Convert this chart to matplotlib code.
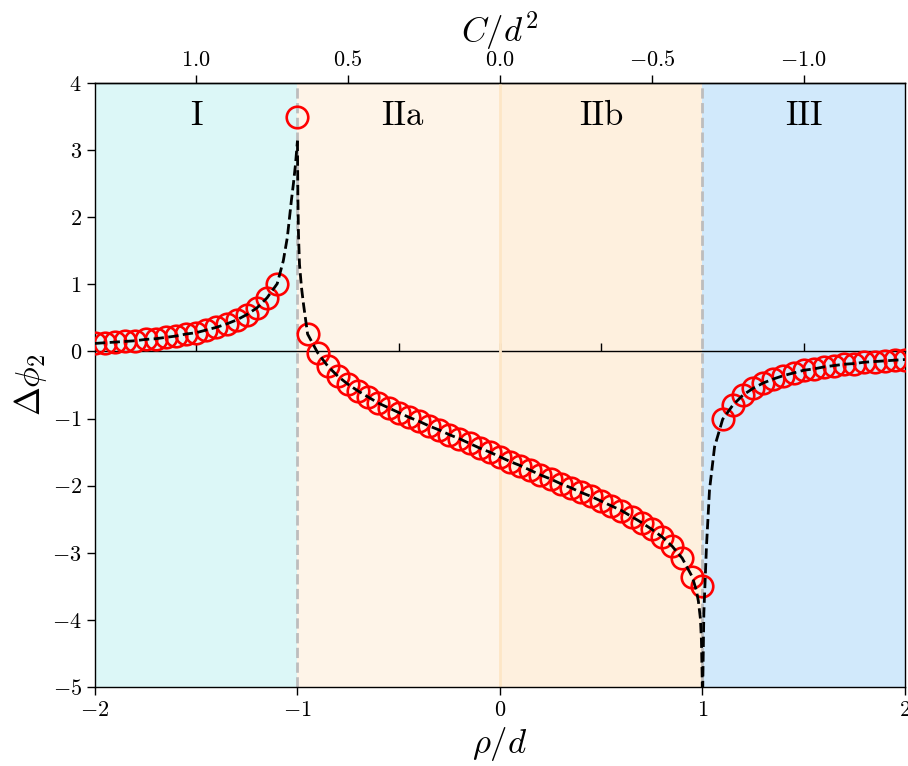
import matplotlib
matplotlib.use('Agg')
from matplotlib import pyplot as plt

plt.rcParams['font.family'] = 'serif'
plt.rcParams['font.serif'] = ['cmr10']
plt.rcParams['mathtext.fontset'] = 'cm'
plt.rcParams['axes.formatter.use_mathtext'] = True
plt.rcParams['axes.linewidth'] = 1.0

# circles, region I (rho/d < -1)
rho_I = [-2.00, -1.95, -1.90, -1.85, -1.80, -1.75, -1.70, -1.65, -1.60, -1.55,
         -1.50, -1.45, -1.40, -1.35, -1.30, -1.25, -1.20, -1.15, -1.10]
dphi_I = [0.12, 0.13, 0.14, 0.15, 0.16, 0.18, 0.19, 0.21, 0.23, 0.26,
          0.28, 0.32, 0.36, 0.41, 0.47, 0.55, 0.65, 0.80, 1.01]

# circles, region II (-1 <= rho/d <= 1)
rho_II = [-1.00, -0.95, -0.90, -0.85, -0.80, -0.75, -0.70, -0.65, -0.60, -0.55,
          -0.50, -0.45, -0.40, -0.35, -0.30, -0.25, -0.20, -0.15, -0.10, -0.05,
          0.00, 0.05, 0.10, 0.15, 0.20, 0.25, 0.30, 0.35, 0.40, 0.45,
          0.50, 0.55, 0.60, 0.65, 0.70, 0.75, 0.80, 0.85, 0.90, 0.95, 1.00]
dphi_II = [3.50, 0.26, -0.02, -0.22, -0.37, -0.49, -0.59, -0.68, -0.77, -0.84,
           -0.91, -0.98, -1.04, -1.11, -1.17, -1.24, -1.30, -1.37, -1.44, -1.50,
           -1.57, -1.64, -1.70, -1.77, -1.84, -1.90, -1.97, -2.03, -2.10, -2.16,
           -2.23, -2.30, -2.37, -2.46, -2.55, -2.65, -2.76, -2.90, -3.08, -3.36, -3.50]

# circles, region III (rho/d > 1)
rho_III = [1.10, 1.15, 1.20, 1.25, 1.30, 1.35, 1.40, 1.45, 1.50, 1.55,
           1.60, 1.65, 1.70, 1.75, 1.80, 1.85, 1.90, 1.95, 2.00]
dphi_III = [-1.01, -0.80, -0.65, -0.55, -0.47, -0.41, -0.36, -0.32, -0.28, -0.26,
            -0.23, -0.21, -0.19, -0.18, -0.16, -0.15, -0.14, -0.13, -0.12]

# extra points of the dashed curve close to the asymptotes
near_I_x = [-1.07, -1.05, -1.03, -1.02, -1.01, -1.00]
near_I_y = [1.35, 1.70, 2.25, 2.50, 2.78, 3.14]
near_IIl_x = [-1.00, -0.998, -0.995, -0.99, -0.98, -0.97]
near_IIl_y = [3.14, 2.30, 1.75, 1.30, 0.95, 0.70]
near_IIr_x = [0.97, 0.98, 0.99, 0.995, 0.999, 1.00]
near_IIr_y = [-3.56, -3.72, -3.98, -4.30, -4.90, -5.50]
near_III_x = [1.0005, 1.002, 1.007, 1.02, 1.035, 1.06]
near_III_y = [-5.50, -4.90, -3.90, -2.90, -2.06, -1.42]

regions = ['I', 'IIa', 'IIb', 'III']
region_edges = [-2, -1, 0, 1, 2]
region_colors = ['#dcf7f7', '#fef4e8', '#fef0de', '#d1e9fb']
region_label_x = [-1.5, -0.48, 0.5, 1.5]
c_ticks = [1.0, 0.5, 0.0, -0.5, -1.0]
zero_ticks = [-1.5, -0.5, 0.0, 0.5, 1.5]


def rho_to_c(r):
    return -r / 1.5


def c_to_rho(c):
    return -1.5 * c


fig = plt.figure(figsize=(9.08, 7.66), dpi=100)
ax = fig.add_axes([0.1046, 0.1031, 0.892, 0.7885])

for i, name in enumerate(regions):
    ax.axvspan(region_edges[i], region_edges[i + 1], color=region_colors[i], lw=0, zorder=0)
    ax.text(region_label_x[i], 3.5, name, fontsize=25, ha='center', va='center')
ax.axvline(0, color='#fde6c6', lw=2, zorder=0.5)
for xv in (-1, 1):
    ax.axvline(xv, color='#bdbdbd', lw=2, ls='--', zorder=1)

mk = dict(ls='none', marker='o', mfc='none', mec='r', ms=15.5, mew=1.9, zorder=3)
ax.plot(rho_I, dphi_I, **mk)
ax.plot(rho_II, dphi_II, **mk)
ax.plot(rho_III, dphi_III, **mk)

ax.plot(rho_I + near_I_x, dphi_I + near_I_y, 'k--', lw=2, zorder=4)
ax.plot(near_IIl_x + rho_II[1:-1] + near_IIr_x,
        near_IIl_y + dphi_II[1:-1] + near_IIr_y, 'k--', lw=2, zorder=4)
ax.plot(near_III_x + rho_III, near_III_y + dphi_III, 'k--', lw=2, zorder=4)

ax.set_xlim(-2, 2)
ax.set_ylim(-5, 4)
ax.set_xticks([-2, -1, 0, 1, 2])
ax.set_yticks(range(-5, 5))
ax.tick_params(labelsize=16, length=6, width=1)
ax.set_xlabel(r'$\rho/d$', fontsize=25, labelpad=4)
ax.set_ylabel(r'$\Delta\phi_2$', fontsize=25, labelpad=2)

top = ax.secondary_xaxis('top', functions=(rho_to_c, c_to_rho))
top.set_xticks(c_ticks)
top.tick_params(labelsize=16, length=6, width=1)
top.set_xlabel(r'$C/d^2$', fontsize=25, labelpad=6)

y0, y1 = ax.get_ylim()
mid = ax.secondary_xaxis((0 - y0) / (y1 - y0))
mid.set_xticks(zero_ticks)
mid.tick_params(labeltop=False, labelbottom=False, length=6, width=1)

fig.savefig('out.png', dpi=100)
